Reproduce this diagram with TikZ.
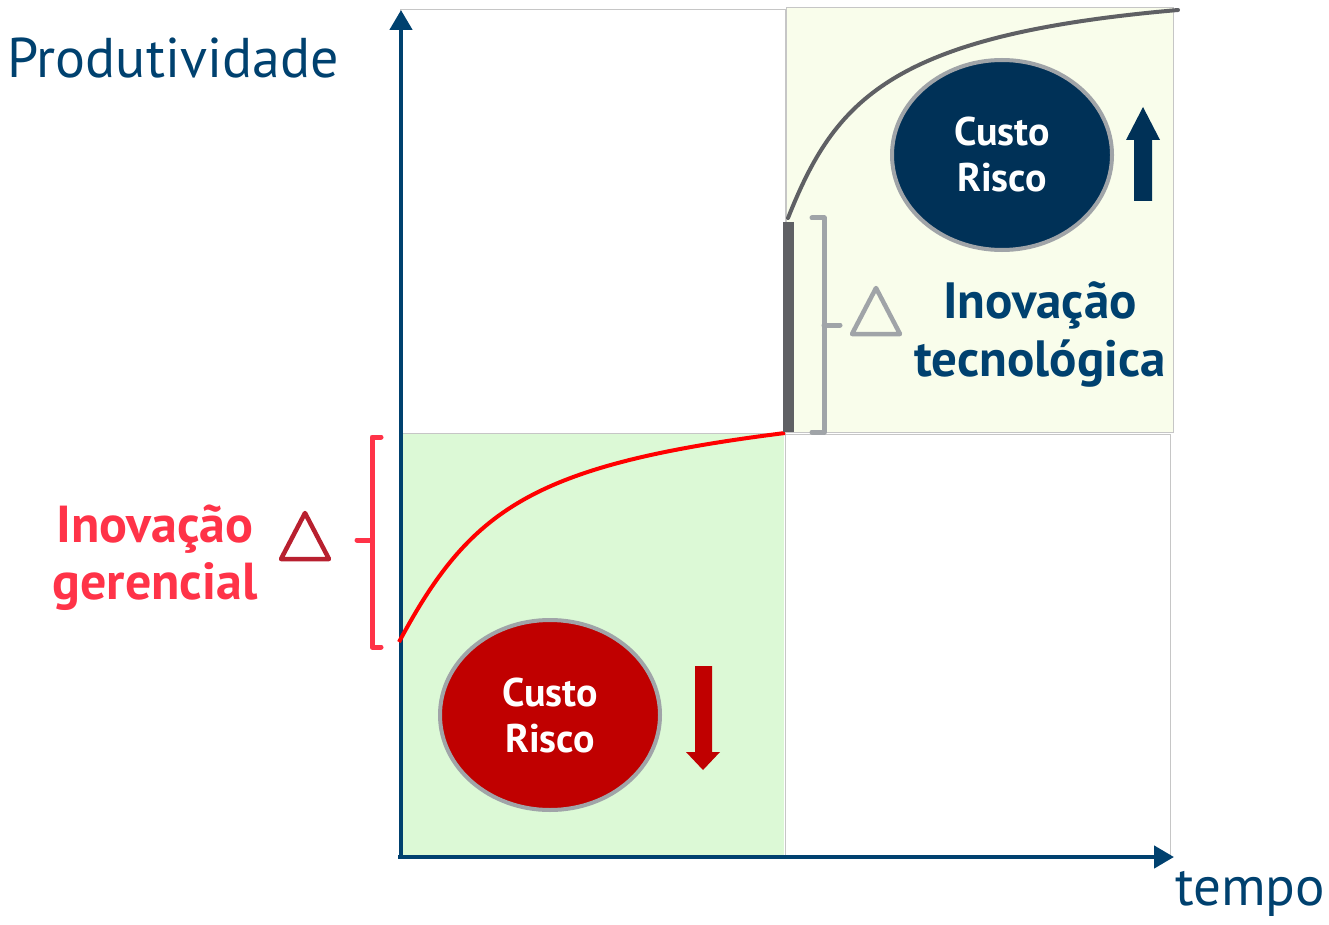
\documentclass[tikz,border=0pt]{standalone}
\usepackage{fontspec}
\setmainfont{PT Sans}
\usepackage{xcolor}
\usetikzlibrary{positioning,arrows.meta,calc,shapes.geometric}

\definecolor{navy}{HTML}{00416F}
\definecolor{navydark}{HTML}{003157}
\definecolor{redtext}{HTML}{FF3348}
\definecolor{reddark}{HTML}{C00000}
\definecolor{redtri}{HTML}{B8202F}
\definecolor{grayline}{HTML}{5F6064}
\definecolor{graylight}{HTML}{A0A4A8}
\definecolor{greenfill}{HTML}{DCF9D6}
\definecolor{yellowfill}{HTML}{F9FDEB}

\tikzset{
  quadrant/.style={draw=gray!45, line width=1pt},
  axis/.style={draw=navy, line width=4.5pt, -{Triangle[length=20pt,width=22pt]}},
  bubble/.style={ellipse, draw=graylight, line width=4pt, minimum width=220pt, minimum height=190pt,
    text=white, font=\fontsize{40}{46}\selectfont\bfseries, align=center},
  bracket/.style={line width=5pt, line cap=round, line join=round},
  tri/.style={line width=4.5pt, line join=round},
}

\begin{document}
\begin{tikzpicture}[x=1pt, y=-1pt]
\useasboundingbox (0,0) rectangle (1329,925);

% Quadrants
\fill[yellowfill] (786,8) rectangle (1173,432);
\draw[quadrant] (786,8) rectangle (1173,432);
\fill[greenfill] (400,434) rectangle (784,856);
\draw[quadrant] (400,10) rectangle (785,433);
\draw[quadrant] (785,434) rectangle (1170,856);

% Axes
\coordinate (origin) at (401,857);
\coordinate (ytop) at (401,10);
\coordinate (xend) at (1174,857);
\draw[axis] (398,857) -- (xend);
\draw[axis] (origin) -- (ytop);
\node[font=\fontsize{56}{62}\selectfont, text=navy] (prod) at (173,58) {Produtividade};
\node[font=\fontsize{55}{62}\selectfont, text=navy] (tempo) at (1250,894) {tempo};

% Managerial curve (red)
\coordinate (r0) at (399,642);
\coordinate (r1) at (785,433);
\draw[red, line width=4pt] (r0) .. controls (470,510) and (530,465) .. (r1);

% Technological jump and curve (gray)
\coordinate (g0) at (788,218);
\coordinate (g1) at (1178,10);
\draw[grayline, line width=11pt] (788,222) -- (788,432);
\draw[grayline, line width=4pt, line cap=round] (g0) .. controls (835,100) and (890,35) .. (g1);

% Brackets
\draw[bracket, redtext] (381,437) -- (372,437) -- (372,647) -- (381,647);
\draw[bracket, redtext] (372,540) -- (357,540);
\draw[bracket, graylight] (812,218) -- (824,218) -- (824,432) -- (812,432);
\draw[bracket, graylight] (824,325) -- (840,325);

% Deltas
\draw[tri, redtri] (305,513) -- (329,559) -- (281,559) -- cycle;
\draw[tri, graylight] (876,288) -- (900,334) -- (852,334) -- cycle;

% Labels
\node[font=\fontsize{52}{57}\selectfont\bfseries, text=redtext, align=center] (gerencial) at (155,558) {Inovação\\gerencial};
\node[font=\fontsize{51}{58}\selectfont\bfseries, text=navy, align=center] (tecno) at (1040,334) {Inovação\\tecnológica};

% Cost/risk bubbles
\node[bubble, fill=reddark] (low) at (550,715) {Custo\\Risco};
\node[bubble, fill=navydark] (high) at (1002,155) {Custo\\Risco};

% Block arrows
\fill[reddark] (695,666) -- (712,666) -- (712,752) -- (720,752) -- (703,770) -- (686,752) -- (695,752) -- cycle;
\fill[navydark] (1134,201) -- (1152,201) -- (1152,140) -- (1160,140) -- (1143,107) -- (1126,140) -- (1134,140) -- cycle;

\end{tikzpicture}
\end{document}
